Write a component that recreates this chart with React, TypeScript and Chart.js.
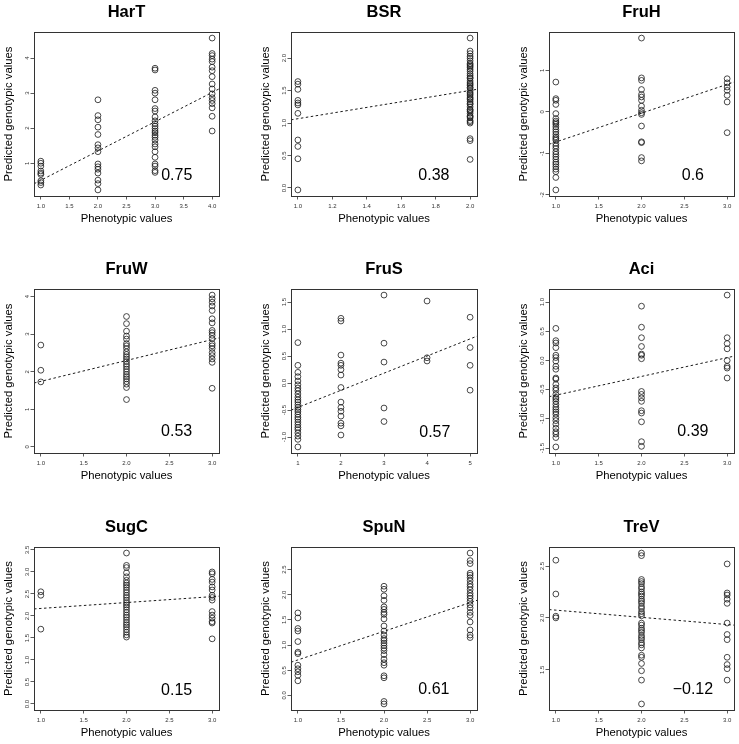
import React, { useEffect, useRef } from "react";
import { Chart, registerables } from "chart.js";

Chart.register(...registerables);

const FONT = "'Liberation Sans', Arial, Helvetica, sans-serif";

// ---------------- DATA ----------------
// HarT
const harTClasses = [1, 2, 3, 4];
const harT1 = [1.06, 1.0, 0.92, 0.78, 0.72, 0.68, 0.5, 0.45, 0.38];
const harT2 = [2.81, 2.36, 2.24, 2.03, 1.82, 1.53, 1.44, 1.33, 0.98, 0.9, 0.83, 0.72, 0.52, 0.42, 0.24];
const harT3 = [3.71, 3.66, 3.08, 3.0, 2.81, 2.56, 2.49, 2.32, 2.21, 2.13, 2.06, 1.99, 1.92, 1.87, 1.8, 1.74, 1.66, 1.55, 1.47, 1.33, 1.17, 0.98, 0.92, 0.79, 0.74];
const harT4 = [4.57, 4.13, 4.07, 3.97, 3.9, 3.74, 3.64, 3.47, 3.26, 3.12, 2.98, 2.87, 2.79, 2.7, 2.58, 2.34, 1.92];
const harTFit = [0.415, 3.12];
const harTXTicks = ["1.0", "1.5", "2.0", "2.5", "3.0", "3.5", "4.0"];
const harTYTicks = ["1", "2", "3", "4"];

// BSR
const bsrClasses = [1, 2];
const bsr1 = [1.64, 1.6, 1.52, 1.35, 1.31, 1.28, 1.15, 0.74, 0.64, 0.45, -0.03];
const bsr2 = [2.31, 2.11, 2.07, 2.03, 2.0, 1.96, 1.92, 1.9, 1.88, 1.86, 1.83, 1.8, 1.76, 1.73, 1.7, 1.69, 1.65, 1.62, 1.6, 1.58, 1.55, 1.54, 1.5, 1.47, 1.45, 1.43, 1.4, 1.38, 1.36, 1.33, 1.3, 1.29, 1.25, 1.21, 1.2, 1.18, 1.15, 1.11, 1.1, 1.08, 1.04, 1.02, 1.0, 0.76, 0.73, 0.44];
const bsrFit = [1.05, 1.52];
const bsrXTicks = ["1.0", "1.2", "1.4", "1.6", "1.8", "2.0"];
const bsrYTicks = ["0.0", "0.5", "1.0", "1.5", "2.0"];

// FruH
const fruHClasses = [1, 2, 3];
const fruH1 = [0.72, 0.32, 0.28, 0.18, -0.04, -0.16, -0.22, -0.26, -0.3, -0.36, -0.42, -0.48, -0.54, -0.6, -0.64, -0.68, -0.76, -0.82, -0.88, -0.96, -1.02, -1.08, -1.14, -1.21, -1.26, -1.32, -1.38, -1.44, -1.58, -1.88];
const fruH2 = [1.78, 0.82, 0.76, 0.54, 0.42, 0.36, 0.28, 0.14, 0.04, -0.02, -0.06, -0.34, -0.72, -0.74, -1.1, -1.18];
const fruH3 = [0.8, 0.7, 0.6, 0.52, 0.4, 0.24, -0.5];
const fruHFit = [-0.78, 0.72];
const fruHXTicks = ["1.0", "1.5", "2.0", "2.5", "3.0"];
const fruHYTicks = ["-2", "-1", "0", "1"];

// FruW
const fruWClasses = [1, 2, 3];
const fruW1 = [2.71, 2.04, 1.73];
const fruW2 = [3.47, 3.28, 3.08, 2.95, 2.87, 2.75, 2.69, 2.62, 2.53, 2.46, 2.4, 2.34, 2.27, 2.2, 2.14, 2.07, 2.0, 1.93, 1.87, 1.81, 1.74, 1.67, 1.58, 1.26];
const fruW3 = [4.04, 3.94, 3.85, 3.75, 3.63, 3.41, 3.3, 3.1, 3.04, 2.97, 2.88, 2.75, 2.69, 2.62, 2.51, 2.43, 2.34, 2.25, 1.56];
const fruWFit = [1.7, 2.9];
const fruWYLim = [0, 4.04];
const fruWXTicks = ["1.0", "1.5", "2.0", "2.5", "3.0"];
const fruWYTicks = ["0", "1", "2", "3", "4"];

// FruS
const fruSClasses = [1, 2, 3, 4, 5];
const fruS1 = [0.75, 0.33, 0.2, 0.12, 0.04, -0.03, -0.09, -0.14, -0.2, -0.26, -0.31, -0.35, -0.4, -0.45, -0.49, -0.53, -0.58, -0.63, -0.67, -0.72, -0.77, -0.82, -0.86, -0.92, -0.98, -1.04, -1.18];
const fruS2 = [1.2, 1.15, 0.52, 0.37, 0.33, 0.25, 0.15, -0.08, -0.35, -0.45, -0.52, -0.61, -0.74, -0.79, -0.96];
const fruS3 = [1.63, 0.74, 0.39, -0.46, -0.71];
const fruS4 = [1.52, 0.47, 0.41];
const fruS5 = [1.22, 0.66, 0.33, -0.13];
const fruSFit = [-0.5, 0.87];
const fruSXTicks = ["1", "2", "3", "4", "5"];
const fruSYTicks = ["-1.0", "-0.5", "0.0", "0.5", "1.0", "1.5"];

// Aci
const aciClasses = [1, 2, 3];
const aci1 = [0.55, 0.34, 0.3, 0.22, 0.09, 0.05, -0.01, -0.1, -0.15, -0.3, -0.32, -0.41, -0.47, -0.51, -0.58, -0.63, -0.66, -0.7, -0.75, -0.8, -0.84, -0.88, -0.92, -0.98, -1.03, -1.09, -1.16, -1.22, -1.26, -1.32, -1.48];
const aci2 = [0.93, 0.57, 0.39, 0.24, 0.11, 0.09, 0.03, -0.53, -0.58, -0.64, -0.7, -0.86, -0.9, -1.05, -1.39, -1.47];
const aci3 = [1.12, 0.39, 0.29, 0.2, 0.0, -0.1, -0.13, -0.3];
const aciFit = [-0.62, 0.074];
const aciXTicks = ["1.0", "1.5", "2.0", "2.5", "3.0"];
const aciYTicks = ["-1.5", "-1.0", "-0.5", "0.0", "0.5", "1.0"];

// SugC
const sugCClasses = [1, 2, 3];
const sugC1 = [2.55, 2.47, 1.7];
const sugC2 = [3.43, 3.15, 3.1, 2.98, 2.89, 2.81, 2.75, 2.7, 2.65, 2.59, 2.53, 2.47, 2.42, 2.36, 2.3, 2.25, 2.2, 2.14, 2.08, 2.02, 1.97, 1.91, 1.85, 1.8, 1.75, 1.69, 1.63, 1.57, 1.52];
const sugC3 = [3.0, 2.96, 2.83, 2.77, 2.66, 2.59, 2.47, 2.42, 2.36, 2.1, 2.02, 1.95, 1.87, 1.84, 1.48];
const sugCFit = [2.16, 2.45];
const sugCYLim = [0, 3.43];
const sugCXTicks = ["1.0", "1.5", "2.0", "2.5", "3.0"];
const sugCYTicks = ["0.0", "0.5", "1.0", "1.5", "2.0", "2.5", "3.0", "3.5"];

// SpuN
const spuNClasses = [1, 2, 3];
const spuN1 = [1.64, 1.54, 1.33, 1.28, 1.07, 0.86, 0.83, 0.6, 0.53, 0.47, 0.4, 0.29];
const spuN2 = [2.17, 2.11, 1.98, 1.89, 1.76, 1.71, 1.65, 1.61, 1.52, 1.38, 1.28, 1.2, 1.13, 1.09, 1.04, 0.99, 0.94, 0.89, 0.81, 0.72, 0.65, 0.6, 0.39, 0.35, -0.12, -0.17];
const spuN3 = [2.83, 2.68, 2.62, 2.43, 2.39, 2.34, 2.28, 2.21, 2.16, 2.1, 2.03, 1.98, 1.93, 1.87, 1.8, 1.74, 1.65, 1.59, 1.46, 1.3, 1.2, 1.15];
const spuNFit = [0.66, 1.89];
const spuNXTicks = ["1.0", "1.5", "2.0", "2.5", "3.0"];
const spuNYTicks = ["0.0", "0.5", "1.0", "1.5", "2.0", "2.5"];

// TreV
const treVClasses = [1, 2, 3];
const treV1 = [2.556, 2.23, 2.016, 2.0];
const treV2 = [2.625, 2.6, 2.37, 2.35, 2.33, 2.3, 2.28, 2.25, 2.23, 2.21, 2.18, 2.16, 2.14, 2.11, 2.09, 2.06, 2.04, 2.02, 1.95, 1.93, 1.9, 1.88, 1.86, 1.83, 1.81, 1.79, 1.76, 1.74, 1.71, 1.64, 1.62, 1.56, 1.49, 1.4, 1.17];
const treV3 = [2.52, 2.24, 2.22, 2.18, 2.14, 1.95, 1.84, 1.79, 1.62, 1.55, 1.51, 1.4];
const treVFit = [2.08, 1.93];
const treVXTicks = ["1.0", "1.5", "2.0", "2.5", "3.0"];
const treVYTicks = ["1.5", "2.0", "2.5"];

// correlation labels and their anchor (in axis units)
const rLabels = ["0.75", "0.38", "0.6", "0.53", "0.57", "0.39", "0.15", "0.61", "\u22120.12"];
const rAnchors = [
  [3.38, 0.65], [1.79, 0.19], [2.6, -1.54],
  [2.585, 0.4], [4.18, -0.92], [2.6, -1.22],
  [2.585, 0.31], [2.58, 0.12], [2.6, 1.31],
];

type Spec = {
  title: string;
  classes: number[];
  groups: number[][];
  fit: number[];
  xTicks: string[];
  yTicks: string[];
  yLim?: number[];
};

const specs: Spec[] = [
  { title: "HarT", classes: harTClasses, groups: [harT1, harT2, harT3, harT4], fit: harTFit, xTicks: harTXTicks, yTicks: harTYTicks },
  { title: "BSR", classes: bsrClasses, groups: [bsr1, bsr2], fit: bsrFit, xTicks: bsrXTicks, yTicks: bsrYTicks },
  { title: "FruH", classes: fruHClasses, groups: [fruH1, fruH2, fruH3], fit: fruHFit, xTicks: fruHXTicks, yTicks: fruHYTicks },
  { title: "FruW", classes: fruWClasses, groups: [fruW1, fruW2, fruW3], fit: fruWFit, xTicks: fruWXTicks, yTicks: fruWYTicks, yLim: fruWYLim },
  { title: "FruS", classes: fruSClasses, groups: [fruS1, fruS2, fruS3, fruS4, fruS5], fit: fruSFit, xTicks: fruSXTicks, yTicks: fruSYTicks },
  { title: "Aci", classes: aciClasses, groups: [aci1, aci2, aci3], fit: aciFit, xTicks: aciXTicks, yTicks: aciYTicks },
  { title: "SugC", classes: sugCClasses, groups: [sugC1, sugC2, sugC3], fit: sugCFit, xTicks: sugCXTicks, yTicks: sugCYTicks, yLim: sugCYLim },
  { title: "SpuN", classes: spuNClasses, groups: [spuN1, spuN2, spuN3], fit: spuNFit, xTicks: spuNXTicks, yTicks: spuNYTicks },
  { title: "TreV", classes: treVClasses, groups: [treV1, treV2, treV3], fit: treVFit, xTicks: treVXTicks, yTicks: treVYTicks },
];

// ---------------- LAYOUT ----------------
const CELL_X = [0, 246, 492];
const CELL_W = [246, 246, 247];
const CELL_Y = [0, 248, 496];
const CELL_H = 248;
const PLOT_L = [34, 291, 549];
const PLOT_R = [219, 477, 734];
const PLOT_T = [32, 289, 547];
const PLOT_B = [196, 453, 710];
const YTITLE_X = [9, 20, 32];
const XAXIS_H = 32;
const TICK_LEN = 3.5;
const YLABEL_GAP = 6.5;
const INK = "#1a1a1a";

function measureWidest(labels: string[], font: string): number {
  const c = document.createElement("canvas").getContext("2d");
  if (!c) return 8;
  c.font = font;
  return Math.max(...labels.map((l) => c.measureText(l).width));
}

const boxPlugin = {
  id: "rbox",
  afterDraw(chart: any) {
    const { ctx, chartArea: a } = chart;
    ctx.save();
    ctx.strokeStyle = "#333";
    ctx.lineWidth = 1;
    ctx.strokeRect(Math.round(a.left) + 0.5, Math.round(a.top) + 0.5, Math.round(a.right - a.left), Math.round(a.bottom - a.top));
    ctx.restore();
  },
};

const rLabelPlugin = {
  id: "rlabel",
  afterDraw(chart: any, _args: any, opts: any) {
    if (!opts || !opts.text) return;
    const { ctx, scales } = chart;
    const px = scales.x.getPixelForValue(opts.at[0]);
    const py = scales.y.getPixelForValue(opts.at[1]);
    ctx.save();
    ctx.font = `16px ${FONT}`;
    ctx.fillStyle = "#000";
    ctx.textAlign = "center";
    ctx.textBaseline = "middle";
    ctx.fillText(opts.text, px, py);
    ctx.restore();
  },
};

function Panel({ idx }: { idx: number }) {
  const ref = useRef<HTMLCanvasElement | null>(null);
  const row = Math.floor(idx / 3);
  const col = idx % 3;
  const spec = specs[idx];
  const cellX = CELL_X[col];
  const cellW = CELL_W[col];
  const cellY = CELL_Y[row];

  useEffect(() => {
    if (!ref.current) return;
    const allY = spec.groups.flat();
    const xLo = Math.min(...spec.classes);
    const xHi = Math.max(...spec.classes);
    const xMin = xLo - 0.04 * (xHi - xLo);
    const xMax = xHi + 0.04 * (xHi - xLo);
    const yLo = spec.yLim ? spec.yLim[0] : Math.min(...allY);
    const yHi = spec.yLim ? spec.yLim[1] : Math.max(...allY);
    const yMin = yLo - 0.04 * (yHi - yLo);
    const yMax = yHi + 0.04 * (yHi - yLo);

    const points: { x: number; y: number }[] = [];
    spec.groups.forEach((g, i) => g.forEach((v) => points.push({ x: spec.classes[i], y: v })));

    const padL = PLOT_L[col] - cellX;
    const padR = cellX + cellW - PLOT_R[col];
    const padT = PLOT_T[row] - cellY;
    const padB = cellY + CELL_H - PLOT_B[row];

    const tickFont = `6px ${FONT}`;
    const widest = measureWidest(spec.yTicks, tickFont);
    const yTickPad = YLABEL_GAP - TICK_LEN - widest / 2;

    const titleSize = 16.5;
    const titleLH = titleSize * 1.2;
    const titleCenter = padT - 20;
    const titlePadTop = titleCenter - titleLH / 2;
    const titlePadBottom = padT - titlePadTop - titleLH;

    const axisTitleSize = 11.3;
    const axisLH = axisTitleSize * 1.2;

    const chart = new Chart(ref.current, {
      type: "scatter",
      data: {
        datasets: [
          {
            type: "line",
            data: [
              { x: xMin, y: spec.fit[0] },
              { x: xMax, y: spec.fit[1] },
            ],
            borderColor: INK,
            borderWidth: 1,
            borderDash: [2.5, 2.5],
            pointRadius: 0,
            fill: false,
          } as any,
          {
            data: points,
            pointStyle: "circle",
            pointRadius: 2.9,
            pointBorderWidth: 0.8,
            pointBorderColor: INK,
            pointBackgroundColor: "rgba(0,0,0,0)",
            showLine: false,
          } as any,
        ],
      },
      options: {
        responsive: false,
        animation: false,
        events: [],
        layout: { padding: { left: 0, right: padR, top: 0, bottom: padB - XAXIS_H } },
        plugins: {
          legend: { display: false },
          tooltip: { enabled: false },
          title: {
            display: true,
            text: spec.title,
            fullSize: false,
            color: "#000",
            font: { family: FONT, size: titleSize, weight: "bold" },
            padding: { top: titlePadTop, bottom: titlePadBottom },
          },
          rlabel: { text: rLabels[idx], at: rAnchors[idx] },
        } as any,
        scales: {
          x: {
            type: "linear",
            min: xMin,
            max: xMax,
            afterBuildTicks: (s: any) => {
              s.ticks = spec.xTicks.map((t) => ({ value: parseFloat(t) }));
            },
            afterFit: (s: any) => {
              s.height = XAXIS_H;
            },
            ticks: {
              autoSkip: false,
              maxRotation: 0,
              minRotation: 0,
              padding: 3.6,
              color: "#333",
              font: { family: FONT, size: 6 },
              callback: (_v: any, i: number) => spec.xTicks[i],
            },
            grid: { display: true, drawOnChartArea: false, drawTicks: true, tickLength: TICK_LEN, color: "#333", lineWidth: 0.8 },
            border: { display: false },
            title: {
              display: true,
              text: "Phenotypic values",
              color: "#000",
              font: { family: FONT, size: axisTitleSize },
              padding: { top: 0, bottom: XAXIS_H - 22.5 - axisLH / 2 },
            },
          },
          y: {
            type: "linear",
            min: yMin,
            max: yMax,
            afterBuildTicks: (s: any) => {
              s.ticks = spec.yTicks.map((t) => ({ value: parseFloat(t) }));
            },
            afterFit: (s: any) => {
              s.width = padL;
            },
            ticks: {
              autoSkip: false,
              minRotation: 90,
              maxRotation: 90,
              crossAlign: "center",
              padding: yTickPad,
              color: "#333",
              font: { family: FONT, size: 6 },
              callback: (_v: any, i: number) => spec.yTicks[i],
            },
            grid: { display: true, drawOnChartArea: false, drawTicks: true, tickLength: TICK_LEN, color: "#333", lineWidth: 0.8 },
            border: { display: false },
            title: {
              display: true,
              text: "Predicted genotypic values",
              color: "#000",
              font: { family: FONT, size: axisTitleSize },
              padding: { top: YTITLE_X[col] - axisLH / 2, bottom: 0 },
            },
          },
        },
      } as any,
      plugins: [boxPlugin, rLabelPlugin],
    });
    return () => chart.destroy();
  }, [idx]);

  return (
    <canvas
      ref={ref}
      width={cellW}
      height={CELL_H}
      style={{ position: "absolute", left: cellX, top: cellY, width: cellW, height: CELL_H }}
    />
  );
}

export default function App() {
  return (
    <div style={{ position: "fixed", left: 0, top: 0, width: 739, height: 744, background: "#fff" }}>
      {specs.map((_, i) => (
        <Panel key={i} idx={i} />
      ))}
    </div>
  );
}
